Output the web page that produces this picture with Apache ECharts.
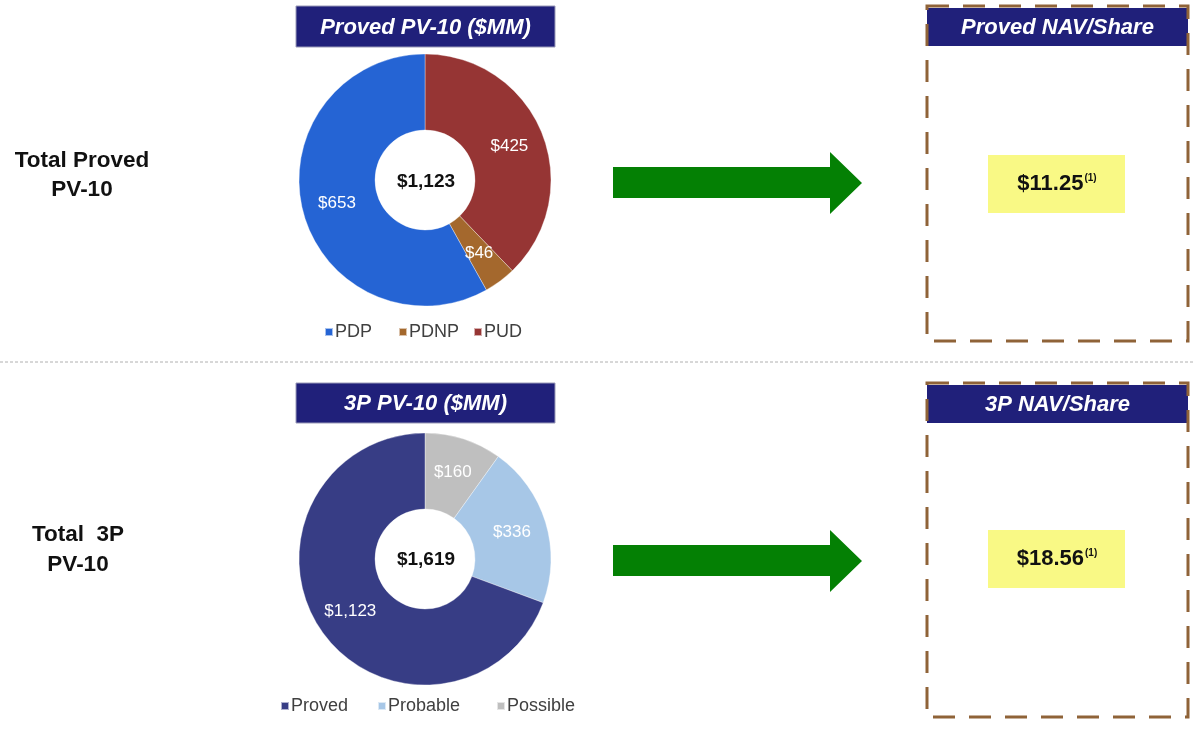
<!DOCTYPE html>
<html>
<head>
<meta charset="utf-8">
<script src="https://cdn.jsdelivr.net/npm/echarts@6/dist/echarts.min.js"></script>
<style>
  html, body { margin: 0; padding: 0; background: #ffffff; }
  #chart { width: 1193px; height: 729px; }
</style>
</head>
<body>
<div id="chart"></div>
<script>
// Proved PV-10 breakdown ($MM)
const provedCategories = ['PDP', 'PDNP', 'PUD'];
const provedValues = [653, 46, 425];
const provedTotal = 1123;

// 3P PV-10 breakdown ($MM)
const threePCategories = ['Proved', 'Probable', 'Possible'];
const threePValues = [1123, 336, 160];
const threePTotal = 1619;

// Net asset value per share
const navLabels = ['Proved NAV/Share', '3P NAV/Share'];
const navValues = [11.25, 18.56];

const rowLabels = ['Total Proved\nPV-10', 'Total  3P\nPV-10'];
const pieTitles = ['Proved PV-10 ($MM)', '3P PV-10 ($MM)'];

const FONT = '"Liberation Sans", Arial, sans-serif';
const NAVY = '#20207a';
const BROWN = '#8f6338';

const provedColors = { PDP: '#2564d4', PDNP: '#a4682d', PUD: '#963534' };
const threePColors = { Proved: '#373d85', Probable: '#a7c7e7', Possible: '#bfbfbf' };

const money = v => '$' + v.toLocaleString('en-US');

// slices run clockwise from 12 o'clock in reverse legend order
function pieData(cats, vals, colors) {
  return cats.map((c, i) => ({ name: c, value: vals[i], itemStyle: { color: colors[c] } })).reverse();
}

function pieSeries(cats, vals, colors, cy) {
  return {
    type: 'pie',
    center: [425, cy],
    radius: [50, 126],
    startAngle: 90,
    clockwise: true,
    silent: true,
    animation: false,
    itemStyle: { borderColor: 'rgba(255,255,255,0.6)', borderWidth: 0.6 },
    label: {
      show: true,
      position: 'inside',
      color: '#ffffff',
      fontFamily: FONT,
      fontSize: 17,
      formatter: p => money(p.value)
    },
    labelLine: { show: false },
    data: pieData(cats, vals, colors)
  };
}

// one legend entry per component so each item sits at its own spot
function legendItems(names, lefts, top) {
  return names.map((n, i) => ({
    data: [n],
    left: lefts[i],
    top: top,
    icon: 'rect',
    itemWidth: 8,
    itemHeight: 8,
    selectedMode: false,
    textStyle: { fontFamily: FONT, fontSize: 18, color: '#404040', padding: [0, 0, 0, -3] }
  }));
}

function headerBox(x, y, w, h, label) {
  return [
    { type: 'rect', shape: { x: x, y: y, width: w, height: h },
      style: { fill: NAVY, stroke: '#9a9ab8', lineWidth: 1 }, z: 10 },
    { type: 'text', x: x + w / 2, y: y + h / 2 + 1, z: 11,
      style: { text: label, fill: '#ffffff', font: 'italic bold 22px ' + FONT,
               align: 'center', verticalAlign: 'middle' } }
  ];
}

function arrow(yc) {
  return { type: 'polygon', z: 5,
    shape: { points: [[613, yc - 16], [830, yc - 16], [830, yc - 31], [862, yc],
                      [830, yc + 31], [830, yc + 15], [613, yc + 15]] },
    style: { fill: '#048004' } };
}

function navPanel(top, bottom, valueY, label, value) {
  const x = 927, w = 261;
  return [
    { type: 'rect', shape: { x: x, y: top + 2, width: w, height: 38 },
      style: { fill: NAVY }, z: 10 },
    { type: 'text', x: x + w / 2, y: top + 22, z: 12,
      style: { text: label, fill: '#ffffff', font: 'italic bold 22px ' + FONT,
               align: 'center', verticalAlign: 'middle' } },
    { type: 'rect', shape: { x: x, y: top, width: w, height: bottom - top },
      style: { fill: 'none', stroke: BROWN, lineWidth: 3, lineDash: [22, 14] }, z: 11 },
    { type: 'rect', shape: { x: 988, y: valueY - 29, width: 137, height: 58 },
      style: { fill: '#f9f985' }, z: 10 },
    { type: 'text', x: 1057, y: valueY, z: 12,
      style: {
        text: '{v|$' + value.toFixed(2) + '}{s|(1)}',
        align: 'center', verticalAlign: 'middle',
        rich: {
          v: { font: 'bold 22px ' + FONT, fill: '#111111', verticalAlign: 'middle' },
          s: { font: 'bold 10px ' + FONT, fill: '#111111', verticalAlign: 'top', padding: [0, 0, 8, 1] }
        }
      } }
  ];
}

const graphics = [
  // row separator
  { type: 'line', shape: { x1: 0, y1: 362, x2: 1193, y2: 362 },
    style: { stroke: '#b0b0b0', lineWidth: 1, lineDash: [3, 2] } },
  // row labels
  { type: 'text', x: 82, y: 175,
    style: { text: rowLabels[0], font: 'bold 22.5px ' + FONT, fill: '#111111',
             align: 'center', verticalAlign: 'middle', lineHeight: 29 } },
  { type: 'text', x: 78, y: 550,
    style: { text: rowLabels[1], font: 'bold 22.5px ' + FONT, fill: '#111111',
             align: 'center', verticalAlign: 'middle', lineHeight: 30 } },
  // donut totals
  { type: 'text', x: 426, y: 182, z: 20,
    style: { text: money(provedTotal), font: 'bold 19px ' + FONT, fill: '#111111',
             align: 'center', verticalAlign: 'middle' } },
  { type: 'text', x: 426, y: 560, z: 20,
    style: { text: money(threePTotal), font: 'bold 19px ' + FONT, fill: '#111111',
             align: 'center', verticalAlign: 'middle' } },
  ...headerBox(296, 6, 259, 41, pieTitles[0]),
  ...headerBox(296, 383, 259, 40, pieTitles[1]),
  arrow(183),
  arrow(561),
  ...navPanel(6, 341, 184, navLabels[0], navValues[0]),
  ...navPanel(383, 717, 559, navLabels[1], navValues[1])
];

const chart = echarts.init(document.getElementById('chart'), null, { renderer: 'canvas' });
chart.setOption({
  backgroundColor: '#ffffff',
  animation: false,
  legend: [
    ...legendItems(provedCategories, [319, 393, 468], 318),
    ...legendItems(threePCategories, [275, 372, 491], 692)
  ],
  series: [
    pieSeries(provedCategories, provedValues, provedColors, 180),
    pieSeries(threePCategories, threePValues, threePColors, 559)
  ],
  graphic: { elements: graphics }
});
</script>
</body>
</html>
